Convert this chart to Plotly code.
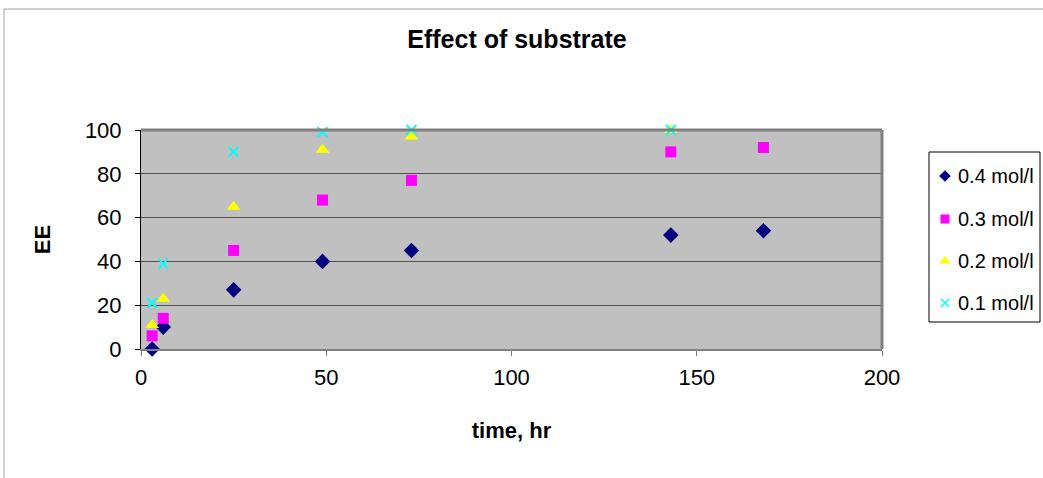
import plotly.graph_objects as go

# Reaction time (hr) and EE readings for each substrate concentration
time_04 = [3, 6, 25, 49, 73, 143, 168]
ee_04 = [0, 10, 27, 40, 45, 52, 54]

time_03 = [3, 6, 25, 49, 73, 143, 168]
ee_03 = [6, 14, 45, 68, 77, 90, 92]

time_02 = [3, 6, 25, 49, 73, 143]
ee_02 = [11, 23, 65, 91, 97, 100]

time_01 = [3, 6, 25, 49, 73, 143]
ee_01 = [21, 39, 90, 99, 100, 100]

series_names = ["0.4 mol/l", "0.3 mol/l", "0.2 mol/l", "0.1 mol/l"]
x_ticks = [0, 50, 100, 150, 200]
y_ticks = [0, 20, 40, 60, 80, 100]

FONT = "Liberation Sans, Arial, sans-serif"
W, H = 1043, 478

# Helpers converting figure pixels to paper fractions (margins are zero)
fx = lambda v: v / W
fy = lambda v: 1 - v / H

styles = [
    dict(symbol="diamond", color="#000080", size=12),
    dict(symbol="square", color="#FF00FF", size=11),
    dict(symbol="triangle-up", color="#FFFF00", size=12),
    dict(symbol="x-thin-open", color="#00FFFF", size=10, line=dict(color="#00FFFF", width=2)),
]
legend_styles = [
    dict(symbol="diamond", color="#000080", size=9),
    dict(symbol="square", color="#FF00FF", size=9),
    dict(symbol="triangle-up", color="#FFFF00", size=10),
    dict(symbol="x-thin-open", color="#00FFFF", size=8, line=dict(color="#00FFFF", width=1.5)),
]

PX0, PX1, PY_TOP, PY_BOT = 141, 882, 130, 349

fig = go.Figure()
for xs, ys, name, st in zip([time_04, time_03, time_02, time_01],
                            [ee_04, ee_03, ee_02, ee_01], series_names, styles):
    fig.add_trace(go.Scatter(x=xs, y=ys, mode="markers", name=name, marker=st,
                             showlegend=False, cliponaxis=False))

# Legend box drawn on its own small axes
leg_x0, leg_x1, leg_top, leg_bot = 929, 1040, 152, 322
row_y = [176, 219, 261, 303]
for ry, name, st in zip(row_y, series_names, legend_styles):
    fig.add_trace(go.Scatter(x=[945], y=[ry], mode="markers", marker=st, showlegend=False,
                             xaxis="x2", yaxis="y2", hoverinfo="skip"))
    fig.add_annotation(text=name, x=fx(956), y=fy(ry), xref="paper", yref="paper",
                       xanchor="left", yanchor="middle", showarrow=False,
                       font=dict(size=20, family=FONT, color="black"))

fig.update_layout(
    width=W, height=H,
    margin=dict(l=0, r=0, t=0, b=0, pad=0),
    paper_bgcolor="white",
    plot_bgcolor="white",
    font=dict(family=FONT, size=22, color="black"),
    showlegend=False,
    title=dict(text="<b>Effect of substrate</b>", x=fx(517), xanchor="center",
               y=fy(39), yanchor="middle", font=dict(size=25)),
    xaxis=dict(domain=[fx(PX0), fx(PX1)], range=[0, 200], tickvals=x_ticks,
               showgrid=False, zeroline=False, automargin=False,
               showline=True, linecolor="#808080", linewidth=2,
               ticks="outside", ticklen=5, tickcolor="#808080", ticklabelstandoff=3,
               title=dict(text="<b>time, hr</b>", font=dict(size=22), standoff=33)),
    yaxis=dict(domain=[fy(PY_BOT), fy(PY_TOP)], range=[0, 100], tickvals=y_ticks,
               showgrid=True, gridcolor="#505050", gridwidth=1, automargin=False,
               zeroline=False, showline=True, linecolor="black", linewidth=1,
               ticks="outside", ticklen=5, tickcolor="black", ticklabelstandoff=9,
               title=dict(text="<b>EE</b>", font=dict(size=22), standoff=28)),
    xaxis2=dict(domain=[fx(leg_x0), fx(leg_x1)], range=[leg_x0, leg_x1], visible=False,
                anchor="y2", fixedrange=True),
    yaxis2=dict(domain=[fy(leg_bot), fy(leg_top)], range=[leg_bot, leg_top], visible=False,
                anchor="x2", fixedrange=True),
)

# Silver plotting area, beneath the gridlines
fig.add_shape(type="rect", xref="paper", yref="paper", x0=fx(PX0), x1=fx(PX1),
              y0=fy(PY_BOT), y1=fy(PY_TOP), line=dict(width=0), fillcolor="#C0C0C0", layer="below")

# Legend frame
fig.add_shape(type="rect", xref="paper", yref="paper", x0=fx(leg_x0), x1=fx(leg_x1),
              y0=fy(leg_bot), y1=fy(leg_top), line=dict(color="black", width=1),
              fillcolor="rgba(0,0,0,0)", layer="below")

# Gray frame on top and right of the plotting area
fig.add_shape(type="line", xref="paper", yref="paper", x0=fx(PX0), x1=fx(PX1), y0=fy(PY_TOP), y1=fy(PY_TOP),
              line=dict(color="#808080", width=3))
fig.add_shape(type="line", xref="paper", yref="paper", x0=fx(PX1), x1=fx(PX1), y0=fy(PY_BOT), y1=fy(PY_TOP),
              line=dict(color="#808080", width=3))

# Outer chart border (top and left edges)
fig.add_shape(type="line", xref="paper", yref="paper", x0=fx(4), x1=1.01, y0=fy(9), y1=fy(9),
              line=dict(color="#A0A0A0", width=1))
fig.add_shape(type="line", xref="paper", yref="paper", x0=fx(4), x1=fx(4), y0=fy(9), y1=-0.01,
              line=dict(color="#A0A0A0", width=1))

fig.write_html("out.html")
